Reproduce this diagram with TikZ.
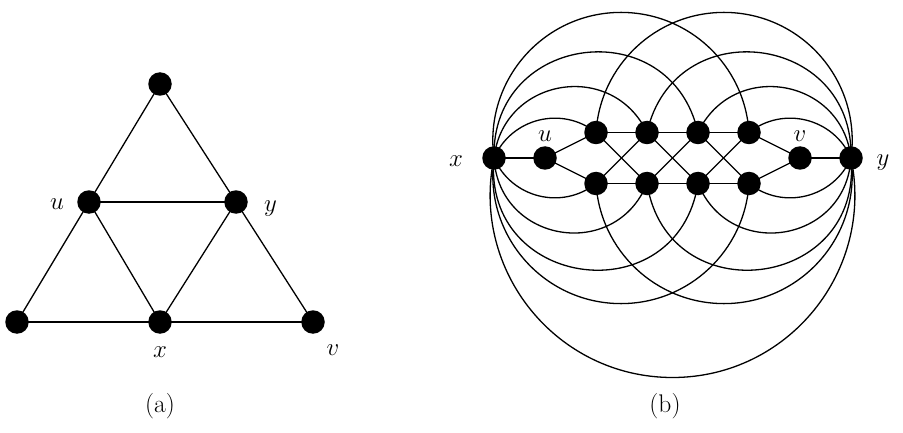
\documentclass[tikz,border=0pt]{standalone}
\usetikzlibrary{backgrounds}
\tikzset{
  dot/.style={circle, fill=black, draw=none, inner sep=0pt, minimum size=23.5pt},
  lbl/.style={inner sep=0pt, font=\fontsize{25.5}{30}\selectfont},
  edge/.style={line width=1.3pt, black},
}
\begin{document}
\begin{tikzpicture}[x=1pt,y=1pt]
\useasboundingbox (0,0) rectangle (903,432);
% ---------------- (a) ----------------
\node[dot] (atop) at (160,348) {};
\node[dot] (au)   at (89,230) {};
\node[dot] (ay)   at (236,230) {};
\node[dot] (abl)  at (17,110) {};
\node[dot] (ax)   at (160,110) {};
\node[dot] (av)   at (313,110) {};
\node[lbl] (lau) at (57,227.5) {$u$};
\node[lbl] (lay) at (270.5,223.5) {$y$};
\node[lbl] (lax) at (160,79.5) {$x$};
\node[lbl] (lav) at (333,82) {$v$};
\node[lbl] (capa) at (160,25.5) {(a)};
\begin{scope}[on background layer]
\draw[edge] (atop.center) -- (au.center);
\draw[edge] (au.center) -- (abl.center);
\draw[edge] (abl.center) -- (ax.center);
\draw[edge] (ax.center) -- (av.center);
\draw[edge] (av.center) -- (ay.center);
\draw[edge] (ay.center) -- (atop.center);
\draw[edge] (au.center) -- (ay.center);
\draw[edge] (au.center) -- (ax.center);
\draw[edge] (ax.center) -- (ay.center);
\end{scope}
% ---------------- (b) ----------------
\node[lbl] (lbx) at (456,271) {$x$};
\node[lbl] (lby) at (883,269) {$y$};
\node[lbl] (lbu) at (545,296) {$u$};
\node[lbl] (lbv) at (800,296) {$v$};
\node[lbl] (capb) at (665,25.5) {(b)};
\begin{scope}[shift={(494pt,274pt)}, x=51pt, y=51pt]
\node[dot] (bx) at (0,0) {};
\node[dot] (bu) at (1,0) {};
\node[dot] (t1) at (2,0.5) {};
\node[dot] (t2) at (3,0.5) {};
\node[dot] (t3) at (4,0.5) {};
\node[dot] (t4) at (5,0.5) {};
\node[dot] (b1) at (2,-0.5) {};
\node[dot] (b2) at (3,-0.5) {};
\node[dot] (b3) at (4,-0.5) {};
\node[dot] (b4) at (5,-0.5) {};
\node[dot] (bv) at (6,0) {};
\node[dot] (by) at (7,0) {};
\coordinate (pkx4) at (2.491,2.855);
\coordinate (pky1) at (4.509,2.855);
\coordinate (pkxb4) at (2.491,-2.855);
\coordinate (pkyb1) at (4.509,-2.855);
\coordinate (xybot) at (3.5,-4.304);
\begin{scope}[on background layer]
% straight edges
\draw[edge] (bx.center) -- (bu.center);
\draw[edge] (bu.center) -- (t1.center);
\draw[edge] (bu.center) -- (b1.center);
\draw[edge] (t1.center) -- (t2.center);
\draw[edge] (t2.center) -- (t3.center);
\draw[edge] (t3.center) -- (t4.center);
\draw[edge] (b1.center) -- (b2.center);
\draw[edge] (b2.center) -- (b3.center);
\draw[edge] (b3.center) -- (b4.center);
\draw[edge] (t4.center) -- (bv.center);
\draw[edge] (b4.center) -- (bv.center);
\draw[edge] (bv.center) -- (by.center);
\draw[edge] (t1.center) -- (b2.center);
\draw[edge] (b1.center) -- (t2.center);
\draw[edge] (t2.center) -- (b3.center);
\draw[edge] (b2.center) -- (t3.center);
\draw[edge] (t3.center) -- (b4.center);
\draw[edge] (b3.center) -- (t4.center);
% arcs from x, top
\draw[edge] (bx.center) .. controls +(66.4:0.854) and +(141.7:0.854) .. (t1.center);
\draw[edge] (bx.center) .. controls +(83.38:1.5876) and +(115.54:1.5876) .. (t2.center);
\draw[edge] (bx.center) .. controls +(91.56:2.450) and +(102.69:2.450) .. (t3.center);
\draw[edge] (bx.center) .. controls +(97.79:1.5245) and +(180:1.5245) .. (pkx4)
                        .. controls +(0:1.3264) and +(93.63:1.3264) .. (t4.center);
% arcs from x, bottom
\draw[edge] (bx.center) .. controls +(-66.4:0.854) and +(-141.7:0.854) .. (b1.center);
\draw[edge] (bx.center) .. controls +(-86.71:1.6613) and +(-112.23:1.6613) .. (b2.center);
\draw[edge] (bx.center) .. controls +(-95.22:2.5993) and +(-99.03:2.5993) .. (b3.center);
\draw[edge] (bx.center) .. controls +(-97.79:1.5245) and +(180:1.5245) .. (pkxb4)
                        .. controls +(0:1.3264) and +(-93.63:1.3264) .. (b4.center);
% x--y big arc
\draw[edge] (bx.center) .. controls +(258.23:2.2676) and +(180:2.2676) .. (xybot)
                        .. controls +(0:2.2676) and +(-78.23:2.2676) .. (by.center);
% arcs from y, top
\draw[edge] (by.center) .. controls +(113.6:0.854) and +(38.3:0.854) .. (t4.center);
\draw[edge] (by.center) .. controls +(96.62:1.5876) and +(64.46:1.5876) .. (t3.center);
\draw[edge] (by.center) .. controls +(88.44:2.450) and +(77.31:2.450) .. (t2.center);
\draw[edge] (by.center) .. controls +(82.21:1.5245) and +(0:1.5245) .. (pky1)
                        .. controls +(180:1.3264) and +(86.37:1.3264) .. (t1.center);
% arcs from y, bottom
\draw[edge] (by.center) .. controls +(-113.6:0.854) and +(-38.3:0.854) .. (b4.center);
\draw[edge] (by.center) .. controls +(-93.29:1.6613) and +(-67.77:1.6613) .. (b3.center);
\draw[edge] (by.center) .. controls +(-84.78:2.5993) and +(-80.97:2.5993) .. (b2.center);
\draw[edge] (by.center) .. controls +(-82.21:1.5245) and +(0:1.5245) .. (pkyb1)
                        .. controls +(180:1.3264) and +(-86.37:1.3264) .. (b1.center);
\end{scope}
\end{scope}
\end{tikzpicture}
\end{document}
